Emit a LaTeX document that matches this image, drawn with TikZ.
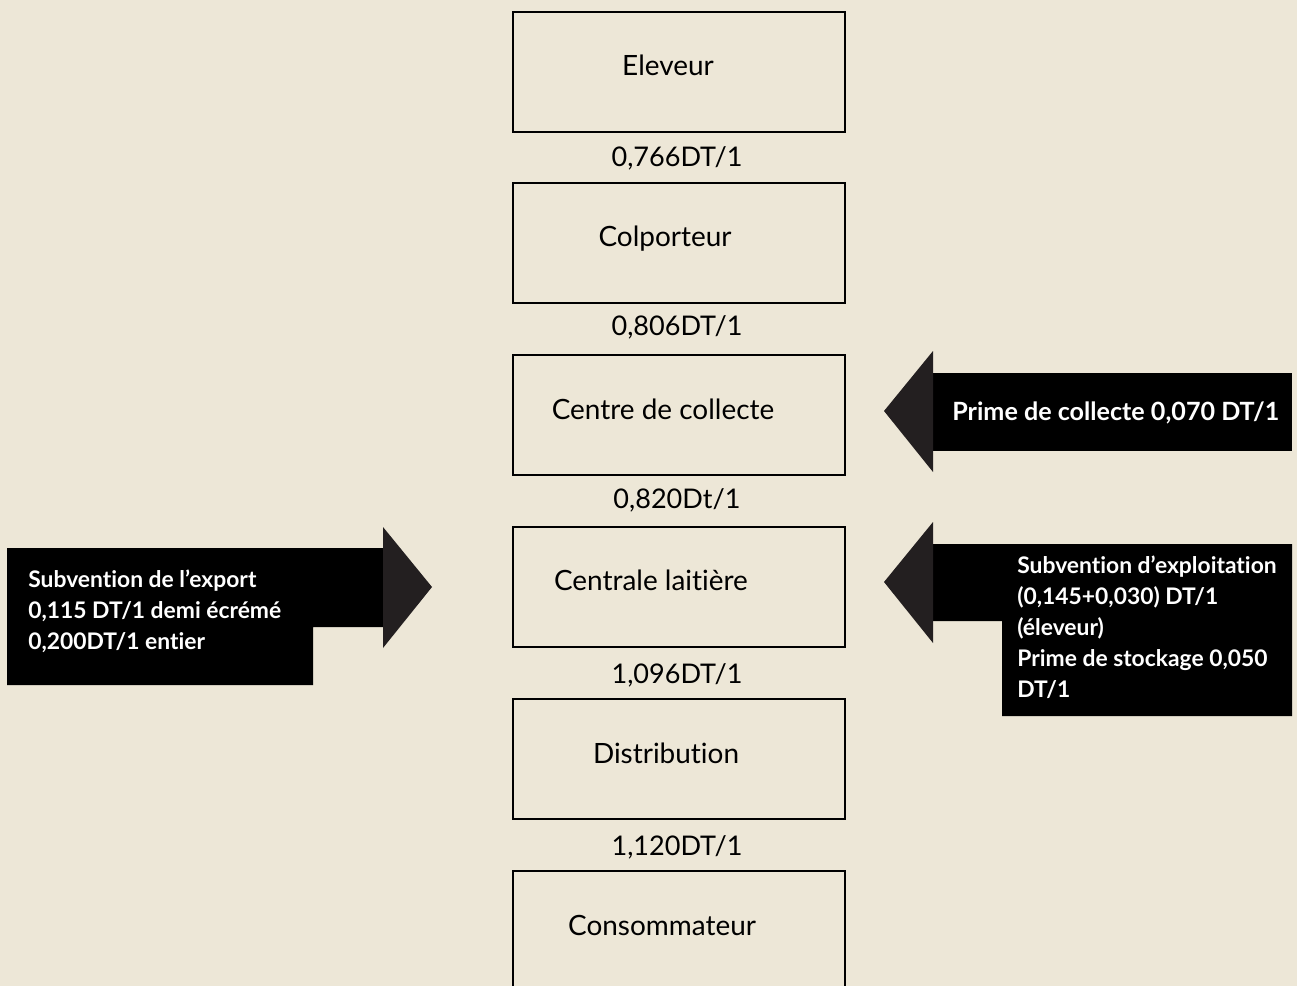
\documentclass[tikz,border=0pt]{standalone}
\usepackage{fontspec}
\setmainfont{Lato}[Ligatures=NoCommon]
\usetikzlibrary{positioning}
\definecolor{fond}{HTML}{EDE7D7}
\definecolor{tete}{HTML}{231F20}

\begin{document}
\begin{tikzpicture}[
    x=0.02cm,
    y=-0.02cm,
    etape/.style={
        draw,
        line width=1.1pt,
        minimum width=6.64cm,
        minimum height=2.4cm,
        inner sep=0pt
    },
    etxt/.style={font=\fontsize{15.9}{19}\selectfont, inner sep=0pt, anchor=base},
    prix/.style={etxt, font=\fontsize{15.4}{19}\selectfont},
    aide/.style={font=\bfseries\fontsize{13}{17.6}\selectfont, text=white,
        align=left, inner sep=0pt, anchor=base west},
    corps/.style={fill=black},
    pointe/.style={fill=tete}
]

% ============================================================
% FOND
% ============================================================
\useasboundingbox (0,0) rectangle (1297,986);
\fill[fond] (0,0) rectangle (1297,986);

% ============================================================
% ETAPES DE LA FILIERE
% ============================================================
\node[etape] (elev) at (679, 72) {};
\node[etape] (colp) at (679,243) {};
\node[etape] (coll) at (679,415) {};
\node[etape] (cent) at (679,587) {};
\node[etape] (dist) at (679,759) {};
\node[etape] (cons) at (679,931) {};

\node[etxt] (elevt) at (668, 76) {Eleveur};
\node[etxt] (colpt) at (665,247) {Colporteur};
\node[etxt] (collt) at (663,419) {Centre de collecte};
\node[etxt] (centt) at (651,590) {Centrale laitière};
\node[etxt] (distt) at (666,763) {Distribution};
\node[etxt] (const) at (662,935) {Consommateur};

% prix entre les etapes
\node[prix] (p1) at (677,167) {0,766DT/1};
\node[prix] (p2) at (677,336) {0,806DT/1};
\node[prix] (p3) at (677,508) {0,820Dt/1};
\node[prix] (p4) at (677,683) {1,096DT/1};
\node[prix] (p5) at (677,855) {1,120DT/1};

% ============================================================
% AIDES DE L'ETAT
% ============================================================
% prime de collecte
\fill[corps] (933,373) rectangle (1292,451);
\fill[pointe] (884,411) -- (933,351) -- (933,472) -- cycle;
\node[aide, font=\bfseries\fontsize{14.3}{17.6}\selectfont] (prime) at (952,420)
    {Prime de collecte 0,070 DT/1};

% subvention d'exploitation (ancre = ligne du bas)
\fill[corps] (933,544) -- (1292,544) -- (1292,716) -- (1002,716)
    -- (1002,621) -- (933,621) -- cycle;
\fill[pointe] (884,582) -- (933,522) -- (933,643) -- cycle;
\node[aide] (expl) at (1017,697)
    {Subvention d’exploitation\\(0,145+0,030) DT/1\\(éleveur)\\Prime de stockage 0,050\\DT/1};

% subvention de l'export
\fill[corps] (7,548) -- (383,548) -- (383,627) -- (313,627)
    -- (313,685) -- (7,685) -- cycle;
\fill[pointe] (432,587) -- (383,527) -- (383,648) -- cycle;
\node[aide] (expo) at (28,649)
    {Subvention de l’export\\0,115 DT/1 demi écrémé\\0,200DT/1 entier};

\end{tikzpicture}
\end{document}
